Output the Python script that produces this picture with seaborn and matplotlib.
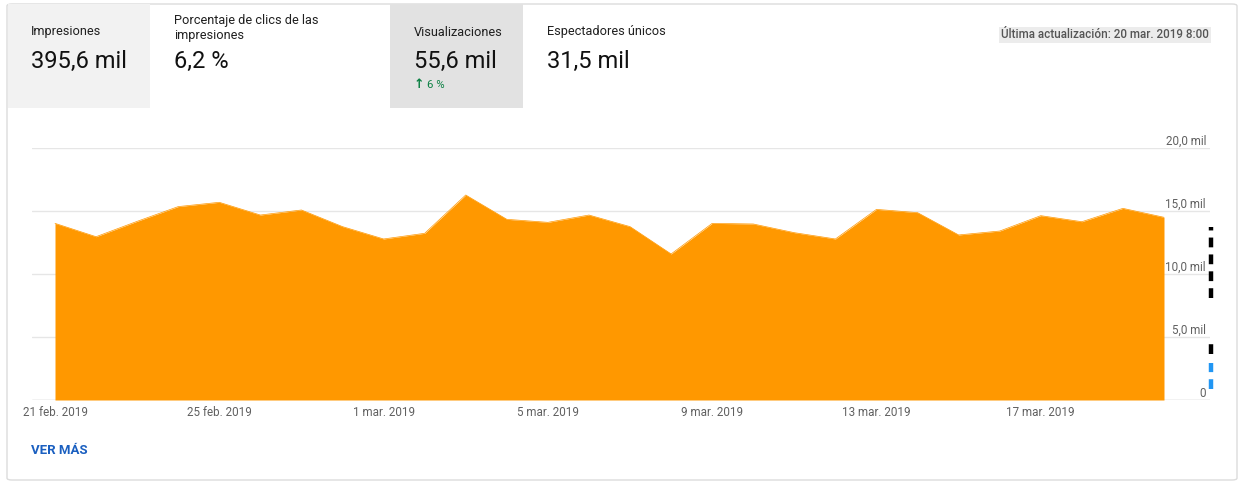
import matplotlib
matplotlib.use("Agg")
import matplotlib.pyplot as plt
import matplotlib.patches as mpatches
import seaborn as sns
import pandas as pd
import numpy as np

# ---------------- data ----------------
dates = pd.date_range("2019-02-21", "2019-03-20", freq="D")
views_mil = [14.02, 12.96, 14.18, 15.35, 15.69, 14.68, 15.08, 13.76, 12.78, 13.23,
             16.27, 14.34, 14.10, 14.68, 13.76, 11.59, 14.02, 13.97, 13.28, 12.78,
             15.13, 14.87, 13.10, 13.41, 14.63, 14.15, 15.21, 14.50]
xtick_dates = ["2019-02-21", "2019-02-25", "2019-03-01", "2019-03-05",
               "2019-03-09", "2019-03-13", "2019-03-17"]
xtick_labels = ["21 feb. 2019", "25 feb. 2019", "1 mar. 2019", "5 mar. 2019",
                "9 mar. 2019", "13 mar. 2019", "17 mar. 2019"]
ytick_values = [0, 5, 10, 15, 20]
ytick_labels = ["0", "5,0 mil", "10,0 mil", "15,0 mil", "20,0 mil"]

tab_titles = ["Impresiones", "Porcentaje de clics de las\nimpresiones",
              "Visualizaciones", "Espectadores únicos"]
tab_values = ["395,6 mil", "6,2 %", "55,6 mil", "31,5 mil"]
change_text = "6 %"
update_text = "Última actualización: 20 mar. 2019 8:00"
more_text = "VER MÁS"

# side markers (mil): (start, end, color)
side_marks = [(8.07, 13.75, "black"), (3.65, 4.84, "black"), (0.85, 2.94, "#2196f3")]

df = pd.DataFrame({"fecha": dates, "vis": views_mil})

# ---------------- figure ----------------
W, H = 1245, 483
sns.set_theme(style="white")
plt.rcParams["font.family"] = ["Roboto", "DejaVu Sans"]
fig = plt.figure(figsize=(W / 100, H / 100), dpi=100)
fig.patch.set_facecolor("white")


def fx(x):
    return x / W


def fy(y):
    return 1 - y / H


# card border
card = mpatches.FancyBboxPatch((fx(7), fy(480)), fx(1237) - fx(7), fy(4) - fy(480),
                               boxstyle="round,pad=0,rounding_size=0.004",
                               transform=fig.transFigure, facecolor="white",
                               edgecolor="#dcdcdc", linewidth=1, zorder=0)
fig.add_artist(card)
# tab backgrounds
for (x0, x1, col) in [(7.5, 150, "#f2f2f2"), (390, 523, "#e2e2e2")]:
    fig.add_artist(mpatches.Rectangle((fx(x0), fy(108)), fx(x1) - fx(x0), fy(4.5) - fy(108),
                                      transform=fig.transFigure, facecolor=col,
                                      edgecolor="none", zorder=1))

tab_x = [31, 174, 414, 547]
for i, (t, v) in enumerate(zip(tab_titles, tab_values)):
    ty = 28 if "\n" in t else 32
    fig.text(fx(tab_x[i]), fy(ty), t, fontsize=9.2, color="#202020",
             ha="left", va="center", linespacing=1.25, zorder=3)
    fig.text(fx(tab_x[i]), fy(61), v, fontsize=17, color="#111111",
             ha="left", va="center", zorder=3)
fig.text(fx(414), fy(84), "↑", fontsize=9, color="#0b8043", fontweight="bold",
         ha="left", va="center", family=["DejaVu Sans"], zorder=3)
fig.text(fx(427), fy(85), change_text, fontsize=8.2, color="#0b8043",
         ha="left", va="center", zorder=3)
fig.text(fx(1209), fy(35), update_text, fontsize=8.4, color="#555555",
         ha="right", va="center", fontweight="medium", zorder=3,
         bbox=dict(boxstyle="square,pad=0.15", facecolor="#ececec", edgecolor="none"))
fig.text(fx(31), fy(450), more_text, fontsize=9.5, color="#1a5fc0",
         fontweight="bold", ha="left", va="center", zorder=3)

# ---------------- chart ----------------
ax = fig.add_axes([fx(32), fy(400), fx(1210) - fx(32), fy(148) - fy(400)])
ax.set_facecolor("none")
ax.set_zorder(2)

orange = "#ff9800"
sns.lineplot(data=df, x="fecha", y="vis", ax=ax, color=orange, linewidth=0.5)
ax.fill_between(df["fecha"], 0, df["vis"], color=orange, linewidth=0, zorder=2)

day = pd.Timedelta(days=1)
ax.set_xlim(dates[0] - 0.56 * day, dates[-1] + 1.12 * day)
ax.set_ylim(0, 20)

for v in ytick_values[1:]:
    ax.axhline(v, color="#e6e6e6", linewidth=1, zorder=1)
ax.axhline(0, color="#bdbdbd", linewidth=1, zorder=1)
for v, lab in zip(ytick_values, ytick_labels):
    ax.text(0.9966, v + 0.02, lab, transform=ax.get_yaxis_transform(),
            ha="right", va="bottom", fontsize=8.4, color="#606060", zorder=3)

for (a, b, c) in side_marks:
    ax.plot([1.0005, 1.0005], [a, b], transform=ax.get_yaxis_transform(),
            color=c, linewidth=3.2, linestyle=(0, (2.2, 1.6)), clip_on=False,
            solid_capstyle="butt", zorder=4)

ax.set_xticks(pd.to_datetime(xtick_dates))
ax.set_xticklabels(xtick_labels, fontsize=8.4, color="#606060")
ax.tick_params(axis="x", length=0, pad=4)
ax.set_yticks([])
ax.set_xlabel("")
ax.set_ylabel("")
for s in ax.spines.values():
    s.set_visible(False)

fig.savefig("out.png", dpi=100)
